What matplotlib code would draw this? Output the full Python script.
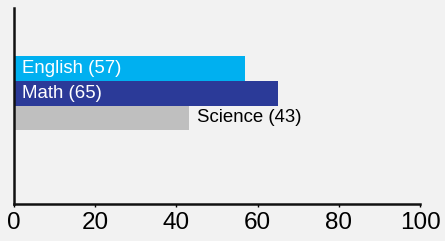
import matplotlib
matplotlib.use("Agg")
import matplotlib.pyplot as plt

categories = ["English", "Math", "Science"]
values = [57, 65, 43]
colors = ["#00b0f0", "#2b3a98", "#bfbfbf"]
xticks = [0, 20, 40, 60, 80, 100]

plt.rcParams['font.family'] = ['Liberation Sans', 'DejaVu Sans']

W, H = 445, 241
fig = plt.figure(figsize=(W/100, H/100), dpi=100, facecolor="#f2f2f2")
ax = fig.add_axes([14/W, (H-204)/H, (420-14)/W, (204-8)/H])
ax.set_facecolor("#f2f2f2")

ypos = [2, 1, 0]
for cat, v, c, y in zip(categories, values, colors, ypos):
    ax.barh(y, v, height=1.0, color=c, edgecolor="none")
    label = f"{cat} ({v})"
    if cat == "Science":
        ax.annotate(label, (v, y), xytext=(8, 0), textcoords="offset pixels",
                    ha="left", va="center", fontsize=13.4, color="#000000")
    else:
        ax.annotate(label, (0, y), xytext=(8, 0), textcoords="offset pixels",
                    ha="left", va="center", fontsize=13.4, color="white")

ax.set_xlim(0, 100)
ax.set_ylim(-3.46, 4.42)
ax.set_xticks(xticks)
ax.set_xticklabels([str(t) for t in xticks], fontsize=17.5)
ax.set_yticks([])
for s in ["top", "right"]:
    ax.spines[s].set_visible(False)
for s in ["left", "bottom"]:
    ax.spines[s].set_linewidth(1.8)
    ax.spines[s].set_color("#111111")
ax.tick_params(axis="x", length=2, width=1, pad=4, colors="#000000")

fig.savefig("out.png", dpi=100, facecolor="#f2f2f2")
